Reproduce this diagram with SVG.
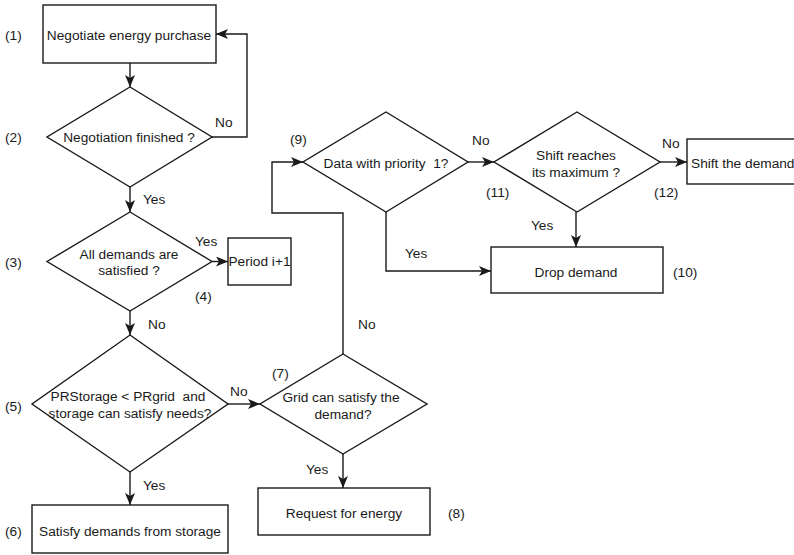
<svg xmlns="http://www.w3.org/2000/svg" width="794" height="555" viewBox="0 0 794 555">
<style>
  .s{fill:#fff;stroke:#1a1a1a;stroke-width:1.4}
  .c{fill:none;stroke:#1a1a1a;stroke-width:1.4;marker-end:url(#ah)}
  text{font-family:"Liberation Sans",Arial,sans-serif;font-size:13.7px;fill:#1a1a1a;white-space:pre}
  .m{text-anchor:middle}
</style>
<defs>
  <marker id="ah" viewBox="0 0 12 10" refX="12" refY="5" markerWidth="12" markerHeight="10" markerUnits="userSpaceOnUse" orient="auto">
    <path d="M0,0 L12,5 L0,10 L3,5 z" fill="#1a1a1a"/>
  </marker>
</defs>
<rect width="794" height="555" fill="#fff"/>
<g id="connectors">
  <path class="c" d="M130,63 V87"/>
  <path class="c" d="M212,137 H247 V34 H216"/>
  <path class="c" d="M130,187 V212"/>
  <path class="c" d="M212,261.5 H228"/>
  <path class="c" d="M130,311 V335"/>
  <path class="c" d="M130,472 V505"/>
  <path class="c" d="M228,404 H260"/>
  <path class="c" d="M343,454 V488"/>
  <path class="c" d="M343,354 V213 H272 V162 H303"/>
  <path class="c" d="M468,162 H494"/>
  <path class="c" d="M386,212 V271 H491"/>
  <path class="c" d="M660,162 H687"/>
  <path class="c" d="M576,212 V247"/>
  <text x="215" y="127">No</text>
  <text x="143" y="204">Yes</text>
  <text x="195" y="246">Yes</text>
  <text x="148" y="329">No</text>
  <text x="143" y="490">Yes</text>
  <text x="230" y="396">No</text>
  <text x="306" y="474">Yes</text>
  <text x="358" y="329">No</text>
  <text x="472" y="145">No</text>
  <text x="662" y="148">No</text>
  <text x="531" y="230">Yes</text>
  <text x="405" y="258">Yes</text>
</g>
<g id="n1">
  <rect class="s" x="43" y="5" width="173" height="58"/>
  <text class="m" x="129" y="40">Negotiate energy purchase</text>
  <text x="5" y="40">(1)</text>
</g>
<g id="n2">
  <polygon class="s" points="130,87 212,137 130,187 47,137"/>
  <text class="m" x="129" y="142">Negotiation finished ?</text>
  <text x="5" y="142">(2)</text>
</g>
<g id="n3">
  <polygon class="s" points="130,212 212,261.5 130,311 47,261.5"/>
  <text class="m" x="129" y="259">All demands are</text>
  <text class="m" x="129" y="275">satisfied ?</text>
  <text x="5" y="267">(3)</text>
</g>
<g id="n4">
  <rect class="s" x="228" y="238" width="63" height="47"/>
  <text class="m" x="259.5" y="266">Period i+1</text>
  <text x="195" y="301">(4)</text>
</g>
<g id="n5">
  <polygon class="s" points="130,335 228,404 130,472 32,404"/>
  <text class="m" x="128" y="401">PRStorage &lt; PRgrid  and</text>
  <text class="m" x="130" y="418">storage can satisfy needs?</text>
  <text x="5" y="411">(5)</text>
</g>
<g id="n6">
  <rect class="s" x="32" y="505" width="196" height="48"/>
  <text class="m" x="130" y="536">Satisfy demands from storage</text>
  <text x="5" y="536">(6)</text>
</g>
<g id="n7">
  <polygon class="s" points="343,354 427,404 343,454 260,404"/>
  <text class="m" x="341" y="402">Grid can satisfy the</text>
  <text class="m" x="343" y="419">demand?</text>
  <text x="272" y="378">(7)</text>
</g>
<g id="n8">
  <rect class="s" x="258" y="488" width="172" height="47"/>
  <text class="m" x="344" y="518">Request for energy</text>
  <text x="448" y="518">(8)</text>
</g>
<g id="n9">
  <polygon class="s" points="386,112 468,162 386,212 303,162"/>
  <text class="m" x="386" y="168">Data with priority  1?</text>
  <text x="290" y="144">(9)</text>
</g>
<g id="n10">
  <rect class="s" x="491" y="247" width="172" height="46"/>
  <text class="m" x="576" y="277">Drop demand</text>
  <text x="673" y="277">(10)</text>
</g>
<g id="n11">
  <polygon class="s" points="577,112 660,162 577,212 494,162"/>
  <text class="m" x="576" y="160">Shift reaches</text>
  <text class="m" x="576" y="177">its maximum ?</text>
  <text x="486" y="197">(11)</text>
</g>
<g id="n12">
  <rect class="s" x="687" y="139" width="112" height="45"/>
  <text x="691" y="168">Shift the demand</text>
  <text x="654" y="197">(12)</text>
</g>
</svg>
